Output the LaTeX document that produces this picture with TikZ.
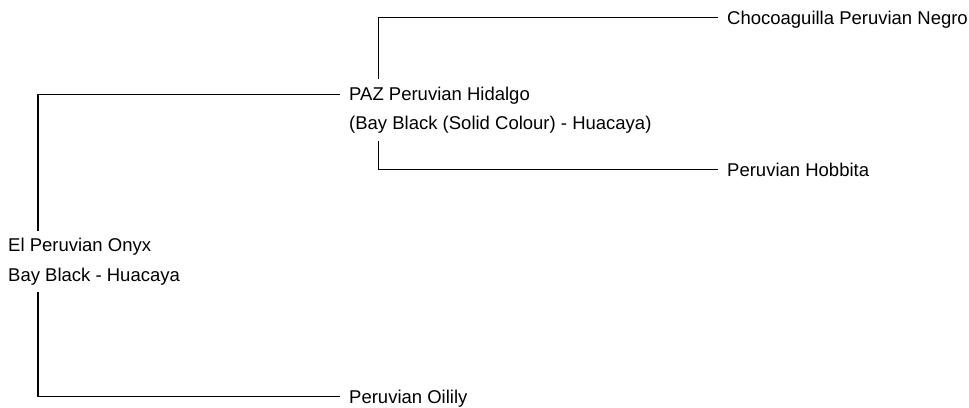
\documentclass[tikz,border=0pt]{standalone}
\usepackage{fontspec}
\setmainfont{Liberation Sans}
\begin{document}
\begin{tikzpicture}[x=1pt,y=1pt,
  lbl/.style={anchor=base west, inner xsep=9pt, inner ysep=0pt,
    text height=13.2pt, text depth=0pt, font=\fontsize{18.5}{20}\selectfont},
  link/.style={line width=1.1pt, black}]
\useasboundingbox (0,0) rectangle (969,407);
\node[lbl] (choco) at (718,382.6) {Chocoaguilla Peruvian Negro};
\node[lbl] (hidA) at (340,306) {PAZ Peruvian Hidalgo};
\node[lbl] (hidB) at (340,277) {(Bay Black (Solid Colour) - Huacaya)};
\node[lbl] (hobb) at (718,230.6) {Peruvian Hobbita};
\node[lbl] (rootA) at (-1,155) {El Peruvian Onyx};
\node[lbl] (rootB) at (-1,125.3) {Bay Black - Huacaya};
\node[lbl] (oil) at (340,3.65) {Peruvian Oilily};
\draw[link] ([xshift=38.5pt,yshift=8.3pt]hidA.north west) |- (choco.west);
\draw[link] ([xshift=38.5pt,yshift=-11pt]hidB.south west) |- (hobb.west);
\draw[link] ([xshift=39pt,yshift=8pt]rootA.north west) |- (hidA.west);
\draw[link] ([xshift=39pt,yshift=-10pt]rootB.south west) |- (oil.west);
\end{tikzpicture}
\end{document}
